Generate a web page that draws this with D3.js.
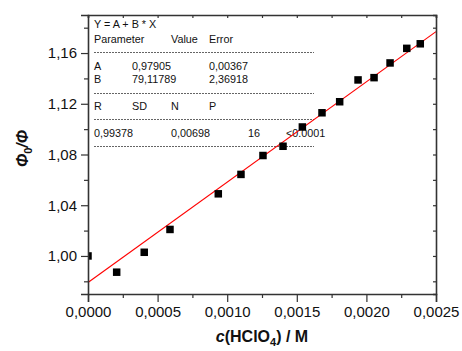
<!DOCTYPE html>
<html><head><meta charset="utf-8">
<script src="https://cdn.jsdelivr.net/npm/d3@7"></script>
<style>body{margin:0;background:#fff}svg{display:block}text{font-family:Arial,"Liberation Sans",sans-serif}</style>
</head><body>
<script>
const concentrations = [0, 0.000206, 0.000404, 0.000589, 0.000936, 0.001099, 0.001257, 0.001401, 0.00154, 0.001681, 0.001808, 0.00194, 0.002055, 0.00217, 0.00229, 0.002387];
const ratios = [1.000, 0.9872, 1.0029, 1.0209, 1.049, 1.0643, 1.0792, 1.0865, 1.1017, 1.1129, 1.1216, 1.1388, 1.1406, 1.1522, 1.1637, 1.1673];
const fitA = 0.97905, fitB = 79.11789;
const xTicks = [0, 0.0005, 0.001, 0.0015, 0.002, 0.0025];
const yTicks = [1.00, 1.04, 1.08, 1.12, 1.16];
const statsRows = [
  ["Y = A + B * X"],
  ["Parameter", "", "Value", "Error"],
  ["A", "0,97905", "", "0,00367"],
  ["B", "79,11789", "", "2,36918"],
  ["R", "SD", "N", "P"],
  ["0,99378", "", "0,00698", "", "16", "<0.0001"]
];

const W = 462, H = 351;
const m = {l: 88, r: 26, t: 15, b: 57};
const svg = d3.select("body").append("svg").attr("width", W).attr("height", H);
const x = d3.scaleLinear().domain([0, 0.0025]).range([m.l, W - m.r]);
const y = d3.scaleLinear().domain([0.97, 1.19]).range([H - m.b, m.t]);
const fmt = (d, n) => d3.format("." + n + "f")(d).replace(".", ",");
const axisColor = "#333";

svg.append("clipPath").attr("id", "clip").append("rect")
  .attr("x", m.l).attr("y", m.t).attr("width", W - m.l - m.r).attr("height", H - m.t - m.b);

// stats text
const g0 = svg.append("g").attr("font-size", 10.8).attr("fill", "#111");
function line(yy){ g0.append("line").attr("x1", 94).attr("x2", 314).attr("y1", yy).attr("y2", yy)
  .attr("stroke", "#222").attr("stroke-width", 0.7).attr("stroke-dasharray", "2,1"); }
g0.append("text").attr("x", 94).attr("y", 28).text(statsRows[0][0]);
g0.append("text").attr("x", 94).attr("y", 43).text(statsRows[1][0]);
g0.append("text").attr("x", 171).attr("y", 43).text(statsRows[1][2]);
g0.append("text").attr("x", 209).attr("y", 43).text(statsRows[1][3]);
line(52.5);
g0.append("text").attr("x", 94).attr("y", 70).text(statsRows[2][0]);
g0.append("text").attr("x", 132).attr("y", 70).text(statsRows[2][1]);
g0.append("text").attr("x", 209).attr("y", 70).text(statsRows[2][3]);
g0.append("text").attr("x", 94).attr("y", 83).text(statsRows[3][0]);
g0.append("text").attr("x", 132).attr("y", 83).text(statsRows[3][1]);
g0.append("text").attr("x", 209).attr("y", 83).text(statsRows[3][3]);
line(93.5);
g0.append("text").attr("x", 94).attr("y", 110).text(statsRows[4][0]);
g0.append("text").attr("x", 132).attr("y", 110).text(statsRows[4][1]);
g0.append("text").attr("x", 171).attr("y", 110).text(statsRows[4][2]);
g0.append("text").attr("x", 209).attr("y", 110).text(statsRows[4][3]);
line(119.5);
g0.append("text").attr("x", 94).attr("y", 137).text(statsRows[5][0]);
g0.append("text").attr("x", 171).attr("y", 137).text(statsRows[5][2]);
g0.append("text").attr("x", 248).attr("y", 137).text(statsRows[5][4]);
g0.append("text").attr("x", 286).attr("y", 137).text(statsRows[5][5]);
line(146.5);

// fit line
svg.append("line").attr("clip-path", "url(#clip)")
  .attr("x1", x(0)).attr("y1", y(fitA)).attr("x2", x(0.0025)).attr("y2", y(fitA + fitB * 0.0025))
  .attr("stroke", "#ff0000").attr("stroke-width", 1.1);

// points
const s = 7.5;
svg.append("g").attr("clip-path", "url(#clip)").selectAll("rect").data(concentrations).join("rect")
  .attr("x", (d) => x(d) - s / 2).attr("y", (d, i) => y(ratios[i]) - s / 2)
  .attr("width", s).attr("height", s).attr("fill", "#000");

// axes
function styleAxis(g){ g.selectAll("path").attr("stroke", axisColor).attr("stroke-width", 1.6);
  g.selectAll("line").attr("stroke", axisColor).attr("stroke-width", 1.2); }
const yMinor = [0.98, 1.02, 1.06, 1.10, 1.14, 1.18];
const xMinorVals = d3.range(1, 10, 2).map(i => i * 0.00025);

const gx = svg.append("g").attr("transform", `translate(0,${H - m.b})`)
  .call(d3.axisBottom(x).tickValues(xTicks).tickSize(8).tickPadding(4).tickFormat(d => fmt(d, 4)));
gx.selectAll("text").attr("font-size", 15).attr("fill", "#111").attr("font-family", "Arial, Liberation Sans, sans-serif");
styleAxis(gx);
svg.append("g").attr("transform", `translate(0,${H - m.b})`)
  .call(d3.axisBottom(x).tickValues(xMinorVals).tickSize(4).tickFormat("")).call(styleAxis).select("path").remove();

const gy = svg.append("g").attr("transform", `translate(${m.l},0)`)
  .call(d3.axisLeft(y).tickValues(yTicks).tickSize(7).tickPadding(4).tickFormat(d => fmt(d, 2)));
gy.selectAll("text").attr("font-size", 15).attr("fill", "#111").attr("font-family", "Arial, Liberation Sans, sans-serif");
styleAxis(gy);
svg.append("g").attr("transform", `translate(${m.l},0)`)
  .call(d3.axisLeft(y).tickValues(yMinor).tickSize(4).tickFormat("")).call(styleAxis).select("path").remove();

const gt = svg.append("g").attr("transform", `translate(0,${m.t})`)
  .call(d3.axisBottom(x).tickValues(xTicks.concat(xMinorVals)).tickSize(3).tickFormat(""));
styleAxis(gt);
const gr = svg.append("g").attr("transform", `translate(${W - m.r},0)`)
  .call(d3.axisLeft(y).tickValues(yTicks.concat(yMinor)).tickSize(3).tickFormat(""));
styleAxis(gr);

// axis titles
const xt = svg.append("text").attr("x", (m.l + W - m.r) / 2).attr("y", 342).attr("text-anchor", "middle")
  .attr("font-size", 16).attr("font-weight", "bold").attr("fill", "#111");
xt.append("tspan").attr("font-style", "italic").text("c");
xt.append("tspan").text("(HClO");
xt.append("tspan").attr("font-size", 11).attr("dy", 4).text("4");
xt.append("tspan").attr("dy", -4).text(") / M");

const yt = svg.append("text").attr("transform", `translate(28,${(m.t + H - m.b) / 2 - 6}) rotate(-90)`)
  .attr("text-anchor", "middle").attr("font-size", 16).attr("font-weight", "bold").attr("font-style", "italic").attr("fill", "#111");
yt.append("tspan").text("Φ");
yt.append("tspan").attr("font-size", 11).attr("dy", 4).attr("font-style", "normal").text("0");
yt.append("tspan").attr("dy", -4).text("/Φ");
</script>
</body></html>
